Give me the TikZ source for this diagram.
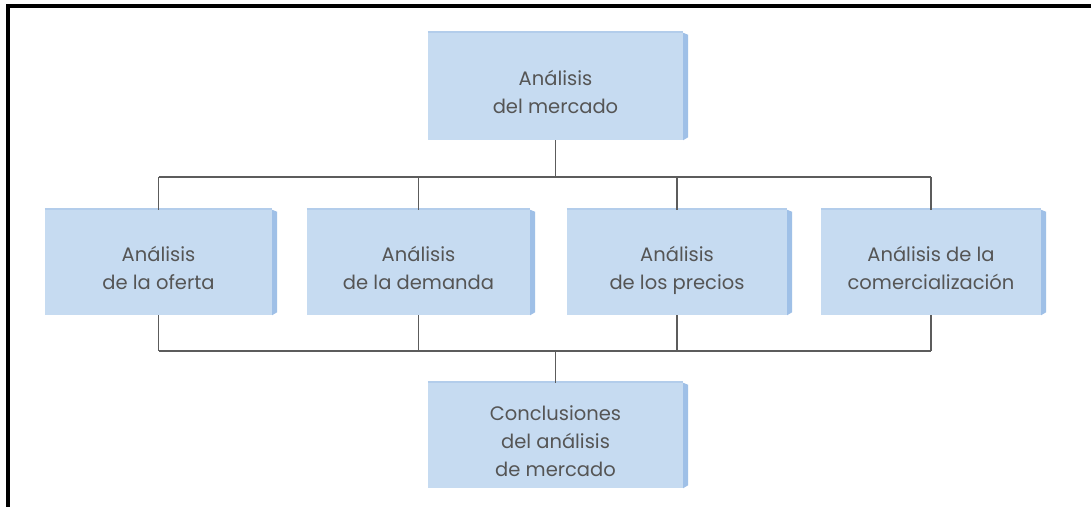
\documentclass[tikz,border=0pt]{standalone}
\usepackage{fontspec}
\setmainfont{Poppins}
\definecolor{boxfill}{HTML}{C6DBF1}
\definecolor{boxside}{HTML}{9FC0E7}
\definecolor{boxtop}{HTML}{B3CDEB}
\definecolor{txt}{HTML}{555555}
\definecolor{conn}{HTML}{5C5C5C}
\newcommand{\vs}{\vphantom{Ágp}}
\newcommand{\vt}{\rule{0pt}{31pt}}
\begin{document}
\begin{tikzpicture}[x=1pt,y=-1pt,
  blk/.style={fill=boxfill, inner sep=0pt, align=center, text=txt,
    font=\fontsize{19.5}{28}\selectfont, minimum height=#1},
  blk/.default=105pt,
  side/.style={fill=boxside},
  conn/.style={draw=conn, line width=1.2pt}]
\useasboundingbox (0,0) rectangle (1091,507);
\fill[white] (0,0) rectangle (1091,507);
% frame
\draw[line width=4pt, black] (6,6) -- (1091,6);
\draw[line width=4pt, black] (8,4) -- (8,507);
% nodes
\node[blk=107pt, minimum width=255pt] (top) at (555.5,86.5) {\vt Análisis\\del mercado\vs};
\node[blk, minimum width=227pt] (b1) at (158.5,262.5) {\vt Análisis\\de la oferta\vs};
\node[blk, minimum width=223pt] (b2) at (418.5,262.5) {\vt Análisis\\de la demanda\vs};
\node[blk, minimum width=220pt] (b3) at (677,262.5) {\vt Análisis\\de los precios\vs};
\node[blk, minimum width=220pt] (b4) at (931,262.5) {\vt Análisis de la\\comercialización\vs};
\node[blk, minimum width=255pt] (bot) at (555.5,435.5) {\vt Conclusiones\\del análisis\\de mercado\vs};
\foreach \n in {top,b1,b2,b3,b4,bot}{
  \fill[side] (\n.north east) -- ([xshift=5pt,yshift=-2pt]\n.north east) -- ([xshift=5pt,yshift=3pt]\n.south east) -- (\n.south east) -- cycle;
  \draw[boxtop, line width=1.5pt] ([yshift=0.75pt]\n.north west) -- ([yshift=0.75pt]\n.north east);
}
% bus coordinates
\coordinate (busT) at (0,177);
\coordinate (busB) at (0,351);
% connectors
\draw[conn] (top.south) -- (top.south |- busT);
\draw[conn] (b1.north |- busT) -- (b4.north |- busT);
\foreach \n in {b1,b2,b3,b4}{
  \draw[conn] (\n.north |- busT) -- (\n.north);
  \draw[conn] (\n.south) -- (\n.south |- busB);
}
\draw[conn] (b1.south |- busB) -- (b4.south |- busB);
\draw[conn] (bot.north |- busB) -- (bot.north);
\end{tikzpicture}
\end{document}
